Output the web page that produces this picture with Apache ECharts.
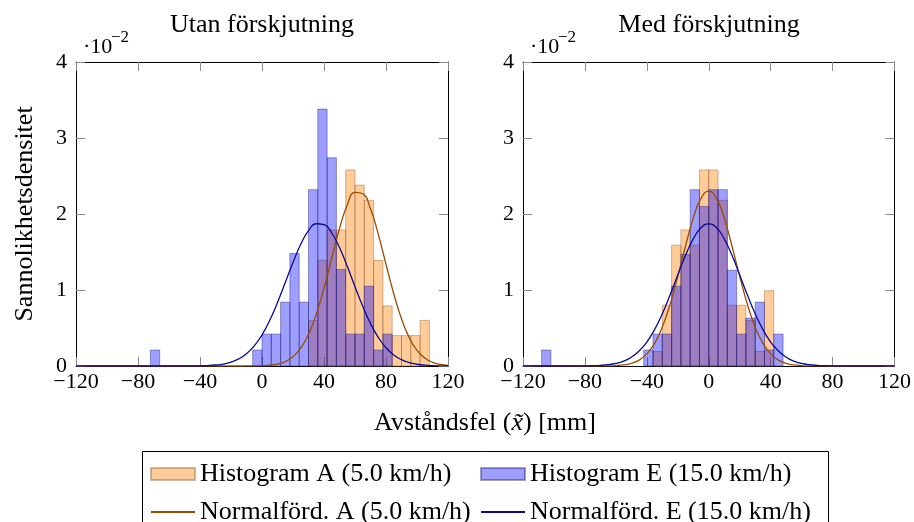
<!DOCTYPE html>
<html>
<head>
<meta charset="utf-8">
<script src="https://cdn.jsdelivr.net/npm/echarts@6/dist/echarts.min.js"></script>
<style>
  html, body { margin: 0; padding: 0; background: #fff; }
  #c { width: 914px; height: 522px; }
</style>
</head>
<body>
<div id="c"></div>
<script>
// ---------------- data ----------------
const xTicks = { min: -120, max: 120, interval: 40 };
const yTicks = { min: 0, max: 4, interval: 1 };
const binWidth = 6;

const panelTitles = ['Utan förskjutning', 'Med förskjutning'];
const seriesNames = ['Histogram A (5.0 km/h)', 'Histogram E (15.0 km/h)',
                     'Normalförd. A (5.0 km/h)', 'Normalförd. E (15.0 km/h)'];

// Left panel (Utan förskjutning), heights in units of 1e-2
const leftABins    = [30, 36, 42, 48, 54, 60, 66, 72, 78, 84, 90, 96, 102];
const leftAHeights = [0.60, 1.39, 1.79, 1.79, 2.58, 2.38, 2.18, 1.39, 0.79, 0.40, 0.40, 0.40, 0.60];
const leftEBins    = [-72, -6, 0, 6, 12, 18, 24, 30, 36, 42, 48, 54, 60, 66, 72, 78];
const leftEHeights = [0.21, 0.21, 0.42, 0.42, 0.84, 1.48, 0.84, 2.32, 3.38, 2.74, 1.27, 0.42, 0.42, 1.05, 0.21, 0.42];

// Right panel (Med förskjutning)
const rightABins    = [-36, -30, -24, -18, -12, -6, 0, 6, 12, 18, 24, 30, 36];
const rightAHeights = [0.19, 0.80, 1.59, 1.79, 1.59, 2.58, 2.58, 2.18, 0.80, 0.80, 0.60, 0.19, 0.99];
const rightEBins    = [-108, -42, -36, -30, -24, -18, -12, -6, 0, 6, 12, 18, 24, 30, 36, 42];
const rightEHeights = [0.21, 0.21, 0.42, 0.42, 1.05, 1.47, 2.32, 2.10, 2.32, 2.32, 1.26, 0.42, 0.63, 0.84, 0.21, 0.42];

const curveX = [-120, -115, -110, -105, -100, -95, -90, -85, -80, -75, -70, -65, -60, -55, -50, -45, -40, -35, -30, -25, -20, -15, -10, -5,
                0, 5, 10, 15, 20, 25, 30, 35, 40, 45, 50, 55, 60, 65, 70, 75, 80, 85, 90, 95, 100, 105, 110, 115, 120];
const leftACurveY = [0, 0, 0, 0, 0, 0, 0, 0, 0, 0, 0, 0, 0, 0, 0, 0, 0, 0, 0, 0, 0, 0,
  0.0004, 0.0013, 0.004, 0.010, 0.025, 0.057, 0.121, 0.234, 0.416, 0.680, 1.024, 1.419, 1.808, 2.119, 2.285,
  2.266, 2.068, 1.735, 1.339, 0.951, 0.621, 0.373, 0.206, 0.105, 0.049, 0.021, 0.008];
const leftECurveY = [0, 0, 0, 0, 0, 0, 0, 0, 0, 0, 0, 0,
  0.0001, 0.0002, 0.0004, 0.0011, 0.0026, 0.0059, 0.013, 0.026, 0.051, 0.093, 0.161, 0.264, 0.410, 0.602,
  0.835, 1.098, 1.363, 1.602, 1.780, 1.872, 1.861, 1.750, 1.558, 1.312, 1.044, 0.786, 0.559, 0.377, 0.240,
  0.145, 0.083, 0.045, 0.023, 0.011, 0.005, 0.002, 0.001];
const rightACurveY = [0, 0, 0, 0, 0, 0, 0, 0, 0, 0,
  0.0006, 0.002, 0.0056, 0.015, 0.035, 0.078, 0.159, 0.297, 0.512, 0.810, 1.179, 1.579, 1.946, 2.206, 2.300,
  2.206, 1.946, 1.579, 1.179, 0.810, 0.512, 0.297, 0.159, 0.078, 0.035, 0.015, 0.0056, 0.002, 0.0006,
  0, 0, 0, 0, 0, 0, 0, 0, 0, 0];
const rightECurveY = [0, 0, 0, 0, 0.0001, 0.0001, 0.0003, 0.0006, 0.0015, 0.0036, 0.008, 0.017, 0.034, 0.065,
  0.116, 0.197, 0.315, 0.479, 0.687, 0.933, 1.198, 1.456, 1.673, 1.819, 1.870,
  1.819, 1.673, 1.456, 1.198, 0.933, 0.687, 0.479, 0.315, 0.197, 0.116, 0.065, 0.034, 0.017, 0.008,
  0.0036, 0.0015, 0.0006, 0.0003, 0.0001, 0.0001, 0, 0, 0, 0];

// ---------------- styles ----------------
const FONT = "'Liberation Serif', 'DejaVu Serif', serif";
const COL_A_FILL = 'rgba(255,128,0,0.4)';
const COL_A_EDGE = 'rgba(150,100,60,0.45)';
const COL_E_FILL = 'rgba(0,0,255,0.38)';
const COL_E_EDGE = 'rgba(40,40,120,0.45)';
const COL_A_LINE = '#9a4d00';
const COL_E_LINE = '#0a0a96';

const grids = [
  { left: 76, top: 62, width: 372, height: 304 },
  { left: 523, top: 62, width: 372, height: 304 }
];

function minusFmt(v) { return v < 0 ? '\u2212' + Math.abs(v) : String(v); }

const xAxes = [], yAxes = [];
grids.forEach((g, i) => {
  xAxes.push({
    type: 'value', gridIndex: i, min: xTicks.min, max: xTicks.max, interval: xTicks.interval,
    position: 'bottom',
    axisLine: { show: true, onZero: false, lineStyle: { color: '#000', width: 1 } },
    axisTick: { show: true, inside: true, length: 9, lineStyle: { color: '#8a8a8a', width: 1 } },
    axisLabel: { show: true, fontFamily: FONT, fontSize: 22, color: '#000', margin: 5, formatter: minusFmt },
    splitLine: { show: false }
  });
  xAxes.push({
    type: 'value', gridIndex: i, min: xTicks.min, max: xTicks.max, interval: xTicks.interval,
    position: 'top',
    axisLine: { show: true, onZero: false, lineStyle: { color: '#000', width: 1 } },
    axisTick: { show: true, inside: true, length: 9, lineStyle: { color: '#8a8a8a', width: 1 } },
    axisLabel: { show: false }, splitLine: { show: false }
  });
  yAxes.push({
    type: 'value', gridIndex: i, min: yTicks.min, max: yTicks.max, interval: yTicks.interval,
    position: 'left',
    axisLine: { show: true, onZero: false, lineStyle: { color: '#000', width: 1 } },
    axisTick: { show: true, inside: true, length: 9, lineStyle: { color: '#8a8a8a', width: 1 } },
    axisLabel: { show: true, fontFamily: FONT, fontSize: 22, color: '#000', margin: 9 },
    splitLine: { show: false }
  });
  yAxes.push({
    type: 'value', gridIndex: i, min: yTicks.min, max: yTicks.max, interval: yTicks.interval,
    position: 'right',
    axisLine: { show: true, onZero: false, lineStyle: { color: '#000', width: 1 } },
    axisTick: { show: true, inside: true, length: 9, lineStyle: { color: '#8a8a8a', width: 1 } },
    axisLabel: { show: false }, splitLine: { show: false }
  });
});

function renderBin(params, api) {
  const x0 = api.value(0), x1 = api.value(1), h = api.value(2);
  const p0 = api.coord([x0, h]);
  const p1 = api.coord([x1, 0]);
  return {
    type: 'rect',
    shape: { x: p0[0], y: p0[1], width: p1[0] - p0[0], height: p1[1] - p0[1] },
    style: api.style()
  };
}

function histSeries(name, gi, bins, heights, fill, edge) {
  return {
    type: 'custom', name: name, xAxisIndex: gi * 2, yAxisIndex: gi * 2,
    renderItem: renderBin,
    itemStyle: { color: fill, borderColor: edge, borderWidth: 1 },
    encode: { x: [0, 1], y: 2 },
    data: bins.map((b, k) => [b, b + binWidth, heights[k]]),
    z: 2
  };
}
function curveSeries(name, gi, xs, ys, color) {
  return {
    type: 'line', name: name, xAxisIndex: gi * 2, yAxisIndex: gi * 2,
    data: xs.map((x, k) => [x, ys[k]]),
    symbol: 'none', smooth: 0.5,
    lineStyle: { color: color, width: 1.3 }, itemStyle: { color: color },
    z: 3
  };
}

const series = [
  histSeries(seriesNames[0], 0, leftABins, leftAHeights, COL_A_FILL, COL_A_EDGE),
  histSeries(seriesNames[1], 0, leftEBins, leftEHeights, COL_E_FILL, COL_E_EDGE),
  curveSeries(seriesNames[2], 0, curveX, leftACurveY, COL_A_LINE),
  curveSeries(seriesNames[3], 0, curveX, leftECurveY, COL_E_LINE),
  histSeries(seriesNames[0], 1, rightABins, rightAHeights, COL_A_FILL, COL_A_EDGE),
  histSeries(seriesNames[1], 1, rightEBins, rightEHeights, COL_E_FILL, COL_E_EDGE),
  curveSeries(seriesNames[2], 1, curveX, rightACurveY, COL_A_LINE),
  curveSeries(seriesNames[3], 1, curveX, rightECurveY, COL_E_LINE)
];

const legendText = { fontFamily: FONT, fontSize: 26, color: '#000' };
const hideSym = { opacity: 0 };
const legends = [
  { orient: 'vertical', left: 150, top: 461, height: 100, itemWidth: 44, itemHeight: 12, itemGap: 12,
    textStyle: legendText, selectedMode: false, padding: 0,
    data: [{ name: seriesNames[0], icon: 'rect' }, { name: seriesNames[2], itemStyle: hideSym }] },
  { orient: 'vertical', left: 480, top: 461, height: 100, itemWidth: 44, itemHeight: 12, itemGap: 12,
    textStyle: legendText, selectedMode: false, padding: 0,
    data: [{ name: seriesNames[1], icon: 'rect' }, { name: seriesNames[3], itemStyle: hideSym }] }
];

const txt = (text, x, y, size, extra) => ({
  type: 'text', x: x, y: y, silent: true,
  style: Object.assign({ text: text, fontFamily: FONT, fontSize: size, fill: '#000',
    align: 'center', verticalAlign: 'middle' }, extra || {})
});

const graphics = [
  txt(panelTitles[0], 262, 25, 26),
  txt(panelTitles[1], 709, 25, 26),
  txt('\u00b710', 83, 47, 22, { align: 'left' }),
  txt('\u22122', 111, 38, 17, { align: 'left' }),
  txt('\u00b710', 530, 47, 22, { align: 'left' }),
  txt('\u22122', 558, 38, 17, { align: 'left' }),
  { type: 'text', x: 25, y: 214, rotation: Math.PI / 2, silent: true,
    style: { text: 'Sannolikhetsdensitet', fontFamily: FONT, fontSize: 26, fill: '#000',
      align: 'center', verticalAlign: 'middle' } },
  { type: 'text', x: 485, y: 423, silent: true,
    style: { text: '{a|Avståndsfel (}{i|x\u0303}{a|) [mm]}', fontFamily: FONT, fontSize: 26, fill: '#000',
      align: 'center', verticalAlign: 'middle',
      rich: { a: { fontFamily: FONT, fontSize: 26 }, i: { fontFamily: FONT, fontSize: 26, fontStyle: 'italic' } } } },
  { type: 'rect', silent: true, shape: { x: 142.5, y: 451.5, width: 686, height: 80 },
    style: { fill: 'none', stroke: '#000', lineWidth: 1 } }
];

const chart = echarts.init(document.getElementById('c'), null, { renderer: 'canvas' });
chart.setOption({
  animation: false,
  backgroundColor: '#fff',
  grid: grids,
  xAxis: xAxes,
  yAxis: yAxes,
  legend: legends,
  series: series,
  graphic: graphics
});
</script>
</body>
</html>
